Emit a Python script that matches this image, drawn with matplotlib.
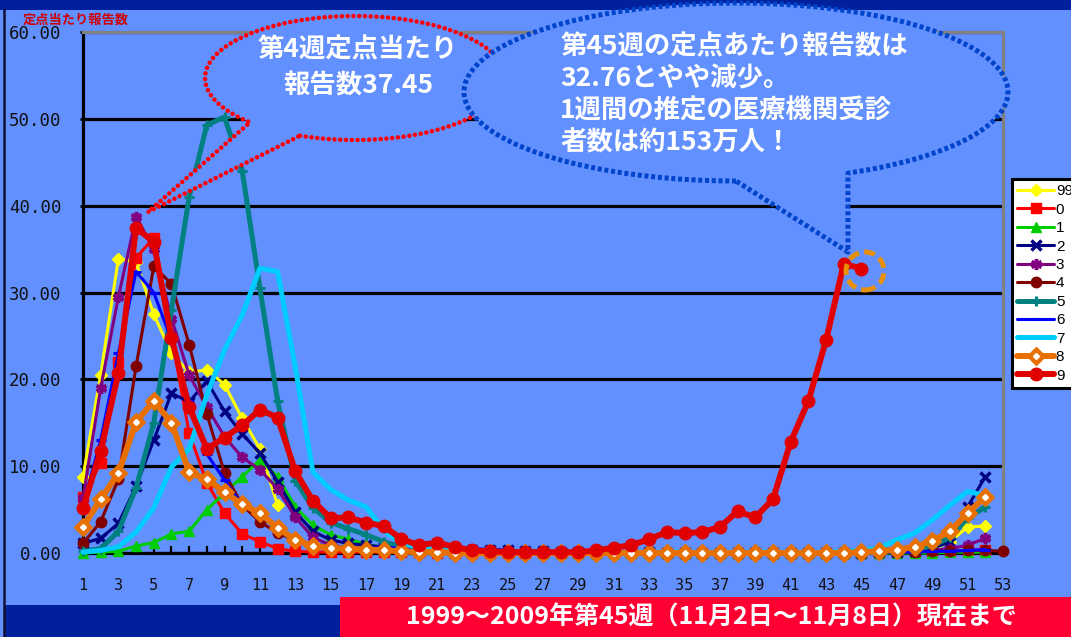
import numpy as np
import matplotlib
matplotlib.use("Agg")
import matplotlib.pyplot as plt
from matplotlib.patches import Rectangle, Polygon, Ellipse
from matplotlib.lines import Line2D
from matplotlib.legend_handler import HandlerTuple

plt.rcParams["font.family"] = ["Noto Sans CJK JP", "DejaVu Sans"]

# =========================================================
# データ（週ごとの定点当たり報告数）
# =========================================================
nan = np.nan
weeks = np.arange(1, 54)
year_labels = ["99", "0", "1", "2", "3", "4", "5", "6", "7", "8", "9"]

s99 = [8.8, 20.5, 33.9, 33.5, 27.5, 23.0, 20.8, 21.1, 19.4, 15.5, 12.0, 5.5,
       nan, nan, nan, nan, nan, nan, nan, nan, nan, nan, nan, nan, nan, nan,
       nan, nan, nan, nan, nan, nan, nan, nan, nan, nan, nan, nan, nan, nan,
       nan, nan, nan, nan, nan, nan, nan, nan,
       0.4, 1.3, 3.0, 3.1]
s00 = [6.5, 10.4, 22.0, 34.0, 36.3, 25.0, 13.8, 8.1, 4.6, 2.2, 1.3, 0.5, 0.2,
       0.1, 0.1, 0.1, 0.1, 0.1, 0.1, 0.1, 0.0, 0.0, 0.0, 0.0, 0.0, 0.0,
       0.0, 0.0, 0.0, 0.0, 0.0, 0.0, 0.0, 0.0, 0.0, 0.0, 0.0, 0.0, 0.0,
       0.0, 0.0, 0.0, 0.0, 0.0, 0.0, 0.0, 0.1, 0.1, 0.2, 0.2, 0.3, 0.4]
s01 = [0.0, 0.1, 0.2, 0.8, 1.2, 2.2, 2.5, 5.0, 6.9, 8.8, 10.7, 8.8, 5.3,
       3.2, 2.1, 1.6, 1.0, 0.6, 0.4, 0.3, 0.2, 0.2, 0.1, 0.1, 0.1, 0.1,
       0.0, 0.0, 0.0, 0.0, 0.0, 0.0, 0.0, 0.0, 0.0, 0.0, 0.0, 0.0, 0.0,
       0.0, 0.0, 0.0, 0.0, 0.0, 0.0, 0.0, 0.0, 0.0, 0.0, 0.1, 0.1, 0.1]
s02 = [1.1, 1.7, 3.4, 7.7, 13.0, 18.4, 17.4, 19.8, 16.3, 13.7, 11.5, 8.2, 4.7,
       2.5, 1.5, 1.1, 0.9, 0.7, 0.6, 0.5, 0.5, 0.5, 0.4, 0.4, 0.3, 0.2,
       0.2, 0.1, 0.1, 0.1, 0.1, 0.1, 0.1, 0.0, 0.0, 0.0, 0.0, 0.0, 0.0,
       0.0, 0.0, 0.0, 0.0, 0.0, 0.0, 0.1, 0.1, 0.2, 0.5, 1.3, 5.3, 8.8]
s03 = [6.3, 19.0, 29.5, 38.7, 35.0, 27.0, 20.5, 16.8, 13.4, 11.0, 9.6, 7.4, 4.1,
       1.8, 0.9, 0.6, 0.4, 0.3, 0.2, 0.2, 0.1, 0.1, 0.1, 0.1, 0.0, 0.0,
       0.0, 0.0, 0.0, 0.0, 0.0, 0.0, 0.0, 0.0, 0.0, 0.0, 0.0, 0.0, 0.0,
       0.0, 0.0, 0.0, 0.0, 0.0, 0.0, 0.0, 0.1, 0.2, 0.3, 0.5, 0.9, 1.7]
s04 = [1.1, 3.6, 8.5, 21.5, 33.0, 31.0, 24.0, 16.0, 9.2, 5.5, 3.6, 2.3, 1.5,
       0.9, 0.6, 0.4, 0.3, 0.2, 0.2, 0.1, 0.1, 0.1, 0.1, 0.1, 0.1, 0.1,
       0.1, 0.1, 0.1, 0.1, 0.1, 0.1, 0.1, 0.1, 0.1, 0.1, 0.1, 0.1, 0.1,
       0.1, 0.1, 0.1, 0.1, 0.1, 0.1, 0.1, 0.1, 0.1, 0.2, 0.2, 0.3, 0.3, 0.2]
s05 = [0.2, 0.5, 2.5, 7.5, 15.0, 28.0, 41.0, 49.3, 50.2, 44.0, 30.5, 17.5, 8.3,
       5.2, 3.5, 2.8, 2.1, 1.3, 0.7, 0.5, 0.3, 0.2, 0.2, 0.1, 0.1, 0.1,
       0.1, 0.0, 0.0, 0.0, 0.0, 0.0, 0.0, 0.0, 0.0, 0.0, 0.0, 0.0, 0.0,
       0.0, 0.0, 0.0, 0.0, 0.0, 0.1, 0.1, 0.2, 0.4, 0.8, 1.8, 4.0, 5.3]
s06 = [5.5, 13.0, 23.0, 32.4, 30.0, 24.5, 17.5, 11.4, 8.4, 5.5, 4.6, 2.9, 1.5,
       1.0, 0.8, 0.7, 0.6, 0.6, 0.6, 0.5, 0.5, 0.6, 0.5, 0.4, 0.3, 0.2,
       0.1, 0.1, 0.1, 0.1, 0.1, 0.1, 0.1, 0.1, 0.1, 0.1, 0.1, 0.1, 0.1,
       0.1, 0.1, 0.1, 0.1, 0.1, 0.1, 0.1, 0.1, 0.1, 0.2, 0.2, 0.3, 0.4]
s07 = [0.1, 0.3, 0.7, 2.4, 5.2, 9.9, 12.0, 18.2, 23.4, 27.4, 32.8, 32.4, 21.4,
       9.3, 7.3, 6.1, 5.3, 2.6, 1.1, 0.6, 0.4, 0.3, 0.2, 0.2, 0.1, 0.1,
       0.1, 0.1, 0.1, 0.1, 0.1, 0.1, 0.1, 0.1, 0.1, 0.1, 0.1, 0.1, 0.1,
       0.1, 0.1, 0.1, 0.1, 0.2, 0.3, 0.6, 1.5, 2.3, 3.8, 5.5, 7.1, 6.6]
s08 = [3.0, 6.2, 9.2, 15.1, 17.5, 15.0, 9.3, 8.5, 7.0, 5.6, 4.6, 2.9, 1.5,
       0.8, 0.6, 0.5, 0.4, 0.3, 0.2, 0.1, 0.1, 0.0, 0.0, 0.0, 0.0, 0.0,
       0.0, 0.0, 0.0, 0.0, 0.0, 0.0, 0.0, 0.0, 0.0, 0.0, 0.0, 0.0, 0.0,
       0.0, 0.0, 0.0, 0.0, 0.0, 0.1, 0.2, 0.4, 0.7, 1.4, 2.5, 4.6, 6.5]
s09 = [5.2, 11.8, 20.7, 37.45, 35.8, 24.8, 16.8, 12.0, 13.3, 14.7, 16.5, 15.6, 9.4,
       6.0, 4.0, 4.1, 3.5, 3.1, 1.6, 0.9, 1.2, 0.7, 0.3, 0.2, 0.1, 0.1,
       0.1, 0.1, 0.1, 0.3, 0.6, 0.9, 1.6, 2.4, 2.3, 2.4, 3.0, 4.8, 4.1,
       6.2, 12.8, 17.5, 24.5, 33.3, 32.76]

series = [s99, s00, s01, s02, s03, s04, s05, s06, s07, s08, s09]

# 系列の見た目（色, マーカー, 線幅, マーカーサイズ）; dot = 中心の白点
styles = [
    dict(color="#FFFF00", marker="D", lw=2.2, ms=6),
    dict(color="#FF0000", marker="s", lw=2.2, ms=6.5),
    dict(color="#00CC00", marker="^", lw=2.2, ms=7),
    dict(color="#000080", marker="x", lw=2.2, ms=7, mew=2.5),
    dict(color="#800080", marker=(6, 2, 0), lw=2.2, ms=8, mew=2.5),
    dict(color="#800000", marker="o", lw=2.2, ms=7.5),
    dict(color="#008080", marker="+", lw=3.6, ms=7, mew=2.2),
    dict(color="#0000FF", marker="_", lw=2.2, ms=7, mew=2.2),
    dict(color="#00CCFF", marker=None, lw=3.6, ms=0),
    dict(color="#E87000", marker="D", lw=4.3, ms=9, dot=True),
    dict(color="#E00000", marker="o", lw=4.3, ms=9),
]

W, H = 1071, 637
BG = "#6390FF"
DARK = "#00209C"

fig = plt.figure(figsize=(W / 100, H / 100), dpi=100, facecolor=BG)

# 背景の帯
fig.add_artist(Rectangle((0, 1 - 10 / H), 1, 10 / H, transform=fig.transFigure,
                         facecolor=DARK, edgecolor="none", zorder=1))
fig.add_artist(Rectangle((4 / W, 0), 340 / W, 32 / H, transform=fig.transFigure,
                         facecolor=DARK, edgecolor="none", zorder=1))
fig.add_artist(Rectangle((340 / W, 0), 1 - 340 / W, 40 / H, transform=fig.transFigure,
                         facecolor="#FF0033", edgecolor="none", zorder=1))
fig.add_artist(Line2D([4 / W, 4 / W], [0, 1 - 10 / H], transform=fig.transFigure,
                      color="#101030", lw=1.8, zorder=1))

ax = fig.add_axes([83 / W, 84 / H, 920 / W, 521 / H])
ax.set_facecolor("none")
ax.set_xlim(1, 53)
ax.set_ylim(0, 60)

handles = []
for i, (vals, st) in enumerate(zip(series, styles)):
    x = weeks[:len(vals)]
    kw = dict(color=st["color"], lw=st["lw"], solid_joinstyle="round",
              solid_capstyle="round", clip_on=False, zorder=3 + i)
    if st["marker"] is not None:
        kw.update(marker=st["marker"], ms=st["ms"], mfc=st["color"],
                  mec=st["color"], mew=st.get("mew", 1.0))
    (ln,) = ax.plot(x, vals, **kw)
    if st.get("dot"):
        (dot,) = ax.plot(x, vals, linestyle="none", marker="D", ms=3, mfc="white",
                         mec="white", clip_on=False, zorder=3.5 + i)
        handles.append((ln, dot))
    else:
        handles.append(ln)

# 軸・目盛り
ax.set_axisbelow(True)
ax.set_yticks(np.arange(0, 61, 10))
ax.set_yticklabels([f"{v:.2f}" for v in np.arange(0, 61, 10)])
ax.grid(axis="y", color="black", lw=2.3)
ax.set_xticks(np.arange(1, 54, 2))
ax.set_xticks(np.arange(2, 53, 2), minor=True)
ax.set_xticklabels([str(v) for v in np.arange(1, 54, 2)])
ax.tick_params(axis="x", which="both", direction="in", length=5, width=1.6,
               pad=18, labelsize=11, color="black")
ax.tick_params(axis="y", direction="out", length=2.5, width=2, pad=13, labelsize=12.5)
for lab in ax.get_xticklabels() + ax.get_yticklabels():
    lab.set_family("DejaVu Sans Mono")
    lab.set_color("#111111")

for side in ["left", "bottom"]:
    ax.spines[side].set_color("black")
    ax.spines[side].set_linewidth(2.3)
for side in ["right", "top"]:
    ax.spines[side].set_color("#808080")
    ax.spines[side].set_linewidth(2.3)

fig.text(23 / W, 1 - 20 / H, "定点当たり報告数", color="#D00000", fontsize=9.5,
         fontweight="bold", ha="left", va="center")

# 凡例（右端で切れるのは元図と同じ）
leg = fig.legend(handles, year_labels, loc="upper left",
                 bbox_to_anchor=(1012 / W, 1 - 179 / H), frameon=True, fancybox=False,
                 edgecolor="black", facecolor="white", framealpha=1,
                 prop={"family": "Liberation Sans", "size": 11},
                 handlelength=2.4, handletextpad=0.12, labelspacing=0.29,
                 borderpad=0.35, borderaxespad=0,
                 handler_map={tuple: HandlerTuple(ndivide=1, pad=0)})
leg.get_frame().set_linewidth(2.2)


# 吹き出し（画像ピクセル座標 → figure座標）
def fx(px):
    return np.asarray(px) / W


def fy(py):
    return 1 - np.asarray(py) / H


# 赤い吹き出し（第4週）
cx, cy, a, b = 355, 78, 150, 62
th = np.radians(np.linspace(111.5, 134.4 - 360, 240))
rx = list(cx + a * np.cos(th)) + [148, cx + a * np.cos(th[0])]
ry = list(cy + b * np.sin(th)) + [212, cy + b * np.sin(th[0])]
fig.add_artist(Polygon(np.column_stack([fx(rx), fy(ry)]), closed=True,
                       transform=fig.transFigure, facecolor=BG, edgecolor="none",
                       zorder=10))
fig.add_artist(Line2D(fx(rx), fy(ry), transform=fig.transFigure, color="#FF0000",
                      lw=3.3, linestyle=(0, (0.01, 1.25)), dash_capstyle="round",
                      zorder=10.5))
fig.text(358 / W, fy(50), "第4週定点当たり", color="white", fontsize=19,
         fontweight="bold", ha="center", va="center", zorder=11)
fig.text(358 / W, fy(86), "報告数37.45", color="white", fontsize=19,
         fontweight="bold", ha="center", va="center", zorder=11)

# 青い吹き出し（第45週）
cx, cy, a, b = 736, 92, 272, 89
th = np.radians(np.linspace(90, 425.7, 300))
bx = list(cx + a * np.cos(th)) + [848, cx + a * np.cos(th[0])]
by = list(cy + b * np.sin(th)) + [252, cy + b * np.sin(th[0])]
fig.add_artist(Polygon(np.column_stack([fx(bx), fy(by)]), closed=True,
                       transform=fig.transFigure, facecolor=BG, edgecolor="none",
                       zorder=12))
fig.add_artist(Line2D(fx(bx), fy(by), transform=fig.transFigure, color="#0044CC",
                      lw=3.6, linestyle=(0, (0.8, 0.55)), dash_capstyle="butt",
                      zorder=12.5))
blue_lines = ["第45週の定点あたり報告数は", "32.76とやや減少。",
              "1週間の推定の医療機関受診", "者数は約153万人！"]
for k, txt in enumerate(blue_lines):
    fig.text(560 / W, fy(47 + 32 * k), txt, color="white", fontsize=19,
             fontweight="bold", ha="left", va="center", zorder=13)

# 第45週の丸印
fig.add_artist(Ellipse((fx(865), fy(271)), 38 / W, 38 / H, transform=fig.transFigure,
                       fill=False, edgecolor="#E8900A", lw=3.6,
                       linestyle=(0, (2.2, 1.1)), zorder=14))

# 下部の帯の文字
fig.text(711 / W, fy(617), "1999～2009年第45週（11月2日～11月8日）現在まで",
         color="white", fontsize=18, fontweight="bold", ha="center", va="center",
         zorder=5)

fig.savefig("out.png", dpi=100, facecolor=BG)
